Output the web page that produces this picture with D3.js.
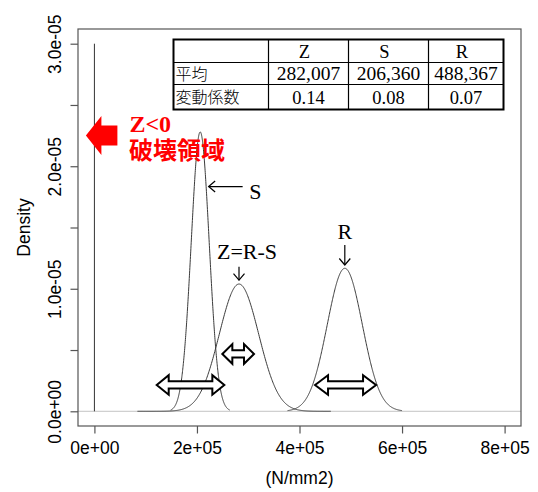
<!DOCTYPE html>
<html>
<head>
<meta charset="utf-8">
<script src="https://cdn.jsdelivr.net/npm/d3@7"></script>
<style>
  body { margin: 0; background: #fff; }
  svg { display: block; }
</style>
</head>
<body>
<script>
// Normal distributions of resistance R, load S and margin Z = R - S
const series = ["Z", "S", "R"];
const means = [282007, 206360, 488367];
const cvs = [0.1362, 0.0848, 0.07];          // coefficient of variation
const rangeLo = [84000, 148700, 376700];     // x-extent over which each density is traced
const rangeHi = [461000, 264000, 600000];

const xTicks = [0, 200000, 400000, 600000, 800000];
const xTickLabels = ["0e+00", "2e+05", "4e+05", "6e+05", "8e+05"];
const yTicks = [0, 5e-6, 1e-5, 1.5e-5, 2e-5, 2.5e-5, 3e-5];
const yTickLabels = ["0.0e+00", "", "1.0e-05", "", "2.0e-05", "", "3.0e-05"];

const rowLabels = ["平均", "変動係数"];

const W = 538, H = 492;
const sans = "'Liberation Sans', Arial, sans-serif";
const serif = "'Liberation Serif', 'Times New Roman', serif";
const cjk = "'Noto Sans CJK JP', sans-serif";

const svg = d3.select("body").append("svg")
  .attr("width", W).attr("height", H);

const box = { l: 78, r: 521, t: 29, b: 426 };
const x = d3.scaleLinear().domain([-32000, 832000]).range([box.l, box.r]);
const y = d3.scaleLinear().domain([-1.2e-6, 3.12e-5]).range([box.b, box.t]);

// zero reference line
svg.append("line")
  .attr("x1", box.l).attr("x2", box.r)
  .attr("y1", y(0)).attr("y2", y(0))
  .attr("stroke", "#c4c4c4").attr("stroke-width", 1);

// failure boundary Z = 0
svg.append("line")
  .attr("x1", x(0)).attr("x2", x(0))
  .attr("y1", y(0)).attr("y2", y(3e-5))
  .attr("stroke", "#333").attr("stroke-width", 1);

// density curves
const dnorm = (v, m, s) => Math.exp(-0.5 * ((v - m) / s) ** 2) / (s * Math.sqrt(2 * Math.PI));
const line = d3.line().x(d => x(d[0])).y(d => y(d[1]));
series.forEach((k, i) => {
  const m = means[i], s = means[i] * cvs[i];
  const n = 400, step = (rangeHi[i] - rangeLo[i]) / n;
  const pts = d3.range(n + 1).map(j => {
    const v = rangeLo[i] + j * step;
    return [v, dnorm(v, m, s)];
  });
  svg.append("path")
    .datum(pts)
    .attr("d", line)
    .attr("fill", "none")
    .attr("stroke", "#3a3a3a")
    .attr("stroke-width", 1);
});

// plot frame
svg.append("rect")
  .attr("x", box.l).attr("y", box.t)
  .attr("width", box.r - box.l).attr("height", box.b - box.t)
  .attr("fill", "none").attr("stroke", "#555").attr("stroke-width", 1.2);

// x axis
const xAxis = svg.append("g")
  .attr("transform", `translate(0,${box.b})`)
  .call(d3.axisBottom(x).tickValues(xTicks)
    .tickFormat((d, i) => xTickLabels[i]).tickSize(7.5).tickSizeOuter(0));
xAxis.select(".domain").remove();
xAxis.selectAll(".tick line").attr("stroke", "#555").attr("stroke-width", 1.2);
xAxis.selectAll(".tick text")
  .attr("y", 28).attr("dy", null)
  .attr("fill", "#000")
  .style("font-family", sans).style("font-size", "17.5px");

// y axis
const yAxis = svg.append("g")
  .attr("transform", `translate(${box.l},0)`)
  .call(d3.axisLeft(y).tickValues(yTicks)
    .tickFormat((d, i) => yTickLabels[i]).tickSize(7.5).tickSizeOuter(0));
yAxis.select(".domain").remove();
yAxis.selectAll(".tick line").attr("stroke", "#555").attr("stroke-width", 1.2);
yAxis.selectAll(".tick text")
  .attr("transform", "rotate(-90)")
  .attr("x", 0).attr("y", -17.5).attr("dy", null)
  .attr("text-anchor", "middle")
  .attr("fill", "#000")
  .style("font-family", sans).style("font-size", "17.5px");

// axis titles
svg.append("text")
  .attr("x", (box.l + box.r) / 2).attr("y", 484)
  .attr("text-anchor", "middle")
  .style("font-family", sans).style("font-size", "17.5px")
  .text("(N/mm2)");
svg.append("text")
  .attr("transform", `translate(30,${(box.t + box.b) / 2}) rotate(-90)`)
  .attr("text-anchor", "middle")
  .style("font-family", sans).style("font-size", "17.5px")
  .text("Density");

// ---- annotations ----
const ann = svg.append("g");

// failure region marker
const redTip = [x(-16600), y(2.25e-5)];
{
  const [tx, ty] = redTip;
  const hl = 15.5, hh = 19.5, sh = 10, len = 31.5;
  ann.append("path")
    .attr("d", `M${tx},${ty} L${tx + hl},${ty - hh} L${tx + hl},${ty - sh} L${tx + len},${ty - sh}
                L${tx + len},${ty + sh} L${tx + hl},${ty + sh} L${tx + hl},${ty + hh} Z`)
    .attr("fill", "#ff0000");
  // two-line caption in one text block
  const cap = ann.append("text")
    .attr("fill", "#ff0000")
    .style("font-weight", "bold").style("font-size", "24px");
  cap.append("tspan")
    .attr("x", tx + 43.5).attr("y", ty - 4)
    .style("font-family", serif)
    .text("Z<0");
  cap.append("tspan")
    .attr("x", tx + 43).attr("y", ty + 23)
    .style("font-family", cjk)
    .text("破壊領域");
}

const arrowHead = (g, tx, ty, dir) => {
  // open V arrow head pointing along dir ("left" or "down")
  const a = 6.5, b = 5.5;
  const d = dir === "left"
    ? `M${tx + a},${ty - b} L${tx},${ty} L${tx + a},${ty + b}`
    : `M${tx - b},${ty - a} L${tx},${ty} L${tx + b},${ty - a}`;
  g.append("path").attr("d", d).attr("fill", "none")
    .attr("stroke", "#000").attr("stroke-width", 1.2);
};

// S label
{
  const tx = x(222800), ty = y(1.834e-5);
  ann.append("line").attr("x1", tx).attr("x2", tx + 34).attr("y1", ty).attr("y2", ty)
    .attr("stroke", "#000").attr("stroke-width", 1.2);
  arrowHead(ann, tx, ty, "left");
  ann.append("text").attr("x", tx + 40.5).attr("y", ty + 12)
    .style("font-family", serif).style("font-size", "22px").text("S");
}

// Z label
{
  const tx = x(means[0]), ty = y(1.07e-5);
  ann.append("line").attr("x1", tx).attr("x2", tx).attr("y1", ty).attr("y2", ty - 13.5)
    .attr("stroke", "#000").attr("stroke-width", 1.2);
  arrowHead(ann, tx, ty, "down");
  ann.append("text").attr("x", tx + 8).attr("y", ty - 21)
    .attr("text-anchor", "middle")
    .style("font-family", serif).style("font-size", "22px").text("Z=R-S");
}

// R label
{
  const tx = x(means[2]), ty = y(1.194e-5);
  ann.append("line").attr("x1", tx).attr("x2", tx).attr("y1", ty).attr("y2", ty - 20)
    .attr("stroke", "#000").attr("stroke-width", 1.2);
  arrowHead(ann, tx, ty, "down");
  ann.append("text").attr("x", tx).attr("y", ty - 26)
    .attr("text-anchor", "middle")
    .style("font-family", serif).style("font-size", "22px").text("R");
}

// hollow double arrows showing spread
const spreads = [
  { from: 121500, to: 253400, level: 2.15e-6, head: 12 },
  { from: 249500, to: 311300, level: 4.68e-6, head: 10 },
  { from: 430300, to: 549300, level: 2.15e-6, head: 13 }
];
spreads.forEach(s => {
  const x1 = x(s.from), x2 = x(s.to), cy = y(s.level);
  const hl = s.head, hh = 9.8, sh = 3.6;
  ann.append("path")
    .attr("d", `M${x1},${cy} L${x1 + hl},${cy - hh} L${x1 + hl},${cy - sh} L${x2 - hl},${cy - sh}
                L${x2 - hl},${cy - hh} L${x2},${cy} L${x2 - hl},${cy + hh} L${x2 - hl},${cy + sh}
                L${x1 + hl},${cy + sh} L${x1 + hl},${cy + hh} Z`)
    .attr("fill", "#fff").attr("stroke", "#000").attr("stroke-width", 2)
    .attr("stroke-linejoin", "miter");
});

// ---- summary table ----
const tbl = svg.append("g");
const colX = [173.5, 268.5, 348.5, 428.5, 503.5];
const rowY = [39.5, 62.5, 84.5, 109.5];
tbl.append("rect")
  .attr("x", colX[0]).attr("y", rowY[0])
  .attr("width", colX[4] - colX[0]).attr("height", rowY[3] - rowY[0])
  .attr("fill", "#fff").attr("stroke", "#000").attr("stroke-width", 2);
colX.slice(1, 4).forEach(cx => tbl.append("line")
  .attr("x1", cx).attr("x2", cx).attr("y1", rowY[0]).attr("y2", rowY[3])
  .attr("stroke", "#000").attr("stroke-width", 1.2));
rowY.slice(1, 3).forEach(ry => tbl.append("line")
  .attr("x1", colX[0]).attr("x2", colX[4]).attr("y1", ry).attr("y2", ry)
  .attr("stroke", "#000").attr("stroke-width", 1.2));

const fmtMean = d3.format(",");
const fmtCv = d3.format(".2f");
const cells = [series, means.map(fmtMean), cvs.map(fmtCv)];
cells.forEach((row, r) => {
  const base = (rowY[r] + rowY[r + 1]) / 2 + 6.5;
  row.forEach((v, c) => {
    tbl.append("text")
      .attr("x", (colX[c + 1] + colX[c + 2]) / 2 - (r === 0 ? 4 : 0))
      .attr("y", base)
      .attr("text-anchor", "middle")
      .style("font-family", serif).style("font-size", r === 1 ? "19.5px" : "18.5px")
      .text(v);
  });
  if (r > 0) {
    tbl.append("text")
      .attr("x", colX[0] + 2).attr("y", base - 0.5)
      .style("font-family", cjk).style("font-size", "16px").style("font-weight", "300")
      .text(rowLabels[r - 1]);
  }
});
</script>
</body>
</html>
